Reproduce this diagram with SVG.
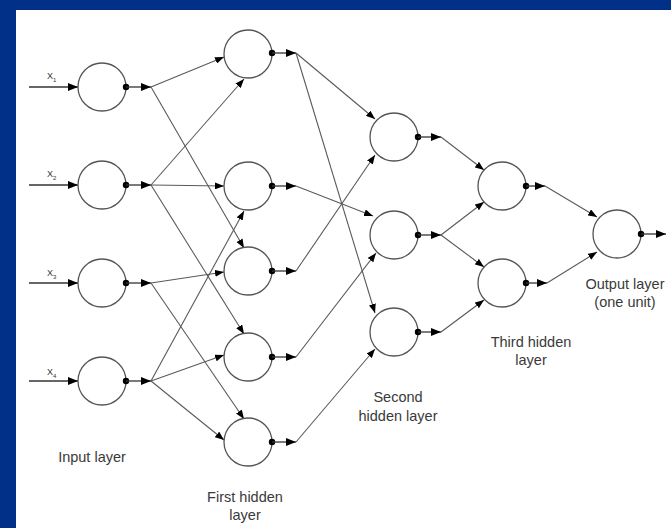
<svg xmlns="http://www.w3.org/2000/svg" width="671" height="528" viewBox="0 0 671 528">
<style>
.n{fill:#fff;stroke:#555;stroke-width:1.3}
.d{fill:#000}
.s{stroke:#333;stroke-width:1.3;fill:none}
.c{stroke:#5a5a5a;stroke-width:1.1;fill:none}
.lbl{font-family:"Liberation Sans",Arial,sans-serif;font-size:14.5px;fill:#3a3a3a;text-anchor:middle}
.x{font-family:"Liberation Sans",Arial,sans-serif;font-size:9px;fill:#333}
</style>
<defs>
<marker id="ah" markerWidth="10" markerHeight="8" refX="10" refY="4" orient="auto" markerUnits="userSpaceOnUse"><path d="M0,0 L10,4 L0,8 z" fill="#000"/></marker>
<marker id="ahs" markerWidth="9" markerHeight="7" refX="9" refY="3.5" orient="auto" markerUnits="userSpaceOnUse"><path d="M0,0 L9,3.5 L0,7 z" fill="#000"/></marker>
</defs>
<rect x="0" y="0" width="671" height="528" fill="#003087"/>
<rect x="16" y="10" width="655" height="518" fill="#fff"/>

<g id="connectors">
<line class="c" x1="151" y1="87" x2="224" y2="57" marker-end="url(#ahs)"/>
<line class="c" x1="151" y1="87" x2="244" y2="248" marker-end="url(#ahs)"/>
<line class="c" x1="151" y1="185" x2="244" y2="79" marker-end="url(#ahs)"/>
<line class="c" x1="151" y1="185" x2="224" y2="186" marker-end="url(#ahs)"/>
<line class="c" x1="151" y1="185" x2="244" y2="334" marker-end="url(#ahs)"/>
<line class="c" x1="151" y1="283" x2="224" y2="272" marker-end="url(#ahs)"/>
<line class="c" x1="151" y1="283" x2="244" y2="419" marker-end="url(#ahs)"/>
<line class="c" x1="151" y1="381" x2="244" y2="211" marker-end="url(#ahs)"/>
<line class="c" x1="151" y1="381" x2="224" y2="355" marker-end="url(#ahs)"/>
<line class="c" x1="151" y1="381" x2="224" y2="440" marker-end="url(#ahs)"/>

<line class="c" x1="296" y1="53" x2="375" y2="119" marker-end="url(#ahs)"/>
<line class="c" x1="296" y1="53" x2="375" y2="313" marker-end="url(#ahs)"/>
<line class="c" x1="296" y1="186" x2="373" y2="216" marker-end="url(#ahs)"/>
<line class="c" x1="296" y1="271" x2="375" y2="155" marker-end="url(#ahs)"/>
<line class="c" x1="296" y1="357" x2="376" y2="253" marker-end="url(#ahs)"/>
<line class="c" x1="296" y1="442" x2="375" y2="349" marker-end="url(#ahs)"/>

<line class="c" x1="441" y1="137" x2="484" y2="170" marker-end="url(#ahs)"/>
<line class="c" x1="441" y1="235" x2="484" y2="202" marker-end="url(#ahs)"/>
<line class="c" x1="441" y1="235" x2="484" y2="267" marker-end="url(#ahs)"/>
<line class="c" x1="441" y1="332" x2="484" y2="300" marker-end="url(#ahs)"/>

<line class="c" x1="545" y1="186" x2="597" y2="217" marker-end="url(#ahs)"/>
<line class="c" x1="547" y1="283" x2="597" y2="252" marker-end="url(#ahs)"/>
</g>

<g id="in1">
<line class="s" x1="29" y1="87" x2="78" y2="87" marker-end="url(#ah)"/>
<text class="x" x="47" y="79">X<tspan font-size="6" dy="2.5">1</tspan></text>
<circle class="n" cx="102" cy="87" r="24"/><circle class="d" cx="126" cy="87" r="3.2"/>
<line class="s" x1="126" y1="87" x2="151" y2="87" marker-end="url(#ah)"/>
</g>
<g id="in2">
<line class="s" x1="29" y1="185" x2="78" y2="185" marker-end="url(#ah)"/>
<text class="x" x="47" y="177">X<tspan font-size="6" dy="2.5">2</tspan></text>
<circle class="n" cx="102" cy="185" r="24"/><circle class="d" cx="126" cy="185" r="3.2"/>
<line class="s" x1="126" y1="185" x2="151" y2="185" marker-end="url(#ah)"/>
</g>
<g id="in3">
<line class="s" x1="29" y1="283" x2="78" y2="283" marker-end="url(#ah)"/>
<text class="x" x="47" y="276">X<tspan font-size="6" dy="2.5">3</tspan></text>
<circle class="n" cx="102" cy="283" r="24"/><circle class="d" cx="126" cy="283" r="3.2"/>
<line class="s" x1="126" y1="283" x2="151" y2="283" marker-end="url(#ah)"/>
</g>
<g id="in4">
<line class="s" x1="29" y1="381" x2="78" y2="381" marker-end="url(#ah)"/>
<text class="x" x="47" y="375">X<tspan font-size="6" dy="2.5">4</tspan></text>
<circle class="n" cx="102" cy="381" r="24"/><circle class="d" cx="126" cy="381" r="3.2"/>
<line class="s" x1="126" y1="381" x2="151" y2="381" marker-end="url(#ah)"/>
</g>

<g id="h1_1"><circle class="n" cx="248" cy="54" r="24"/><circle class="d" cx="272" cy="53" r="3.2"/><line class="s" x1="272" y1="53" x2="296" y2="53" marker-end="url(#ah)"/></g>
<g id="h1_2"><circle class="n" cx="248" cy="186" r="24"/><circle class="d" cx="272" cy="186" r="3.2"/><line class="s" x1="272" y1="186" x2="296" y2="186" marker-end="url(#ah)"/></g>
<g id="h1_3"><circle class="n" cx="248" cy="271" r="24"/><circle class="d" cx="272" cy="271" r="3.2"/><line class="s" x1="272" y1="271" x2="296" y2="271" marker-end="url(#ah)"/></g>
<g id="h1_4"><circle class="n" cx="248" cy="357" r="24"/><circle class="d" cx="272" cy="357" r="3.2"/><line class="s" x1="272" y1="357" x2="296" y2="357" marker-end="url(#ah)"/></g>
<g id="h1_5"><circle class="n" cx="248" cy="442" r="24"/><circle class="d" cx="272" cy="442" r="3.2"/><line class="s" x1="272" y1="442" x2="296" y2="442" marker-end="url(#ah)"/></g>

<g id="h2_1"><circle class="n" cx="394" cy="137" r="24"/><circle class="d" cx="418" cy="137" r="3.2"/><line class="s" x1="418" y1="137" x2="441" y2="137" marker-end="url(#ah)"/></g>
<g id="h2_2"><circle class="n" cx="394" cy="235" r="24"/><circle class="d" cx="418" cy="235" r="3.2"/><line class="s" x1="418" y1="235" x2="441" y2="235" marker-end="url(#ah)"/></g>
<g id="h2_3"><circle class="n" cx="394" cy="332" r="24"/><circle class="d" cx="418" cy="332" r="3.2"/><line class="s" x1="418" y1="332" x2="441" y2="332" marker-end="url(#ah)"/></g>

<g id="h3_1"><circle class="n" cx="502" cy="186" r="24"/><circle class="d" cx="526" cy="186" r="3.2"/><line class="s" x1="526" y1="186" x2="545" y2="186" marker-end="url(#ah)"/></g>
<g id="h3_2"><circle class="n" cx="502" cy="283" r="24"/><circle class="d" cx="526" cy="283" r="3.2"/><line class="s" x1="526" y1="283" x2="547" y2="283" marker-end="url(#ah)"/></g>

<g id="out"><circle class="n" cx="617" cy="234" r="24"/><circle class="d" cx="641" cy="234" r="3.2"/><line class="s" x1="641" y1="234" x2="666" y2="234" marker-end="url(#ah)"/></g>

<g id="labels">
<text class="lbl" x="92" y="462">Input layer</text>
<text class="lbl" x="245" y="502">First hidden</text>
<text class="lbl" x="245" y="520">layer</text>
<text class="lbl" x="398" y="402">Second</text>
<text class="lbl" x="398" y="421">hidden layer</text>
<text class="lbl" x="531" y="347">Third hidden</text>
<text class="lbl" x="531" y="365">layer</text>
<text class="lbl" x="625" y="289">Output layer</text>
<text class="lbl" x="625" y="307">(one unit)</text>
</g>
</svg>
